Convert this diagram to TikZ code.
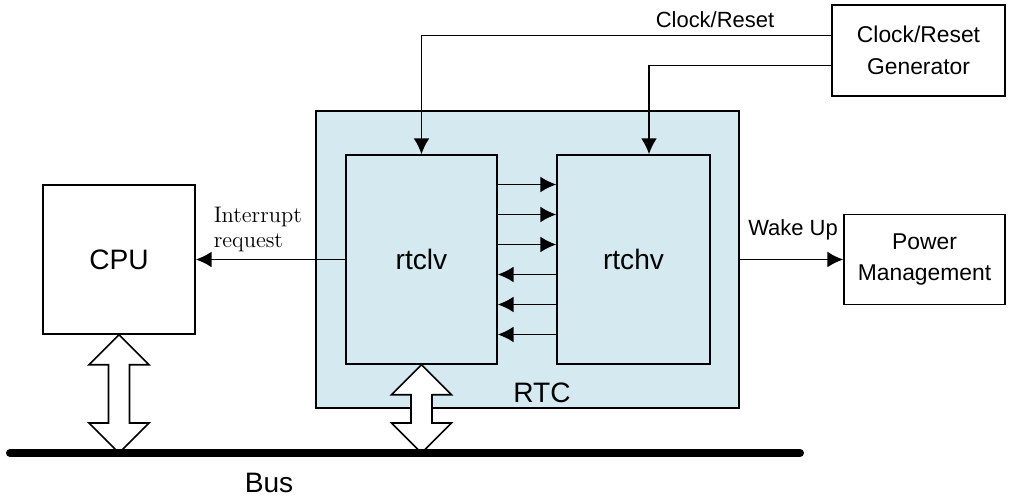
\documentclass[tikz,border=0pt]{standalone}
\usepackage{fontspec}
\newfontfamily\gothic{Liberation Sans}
\usetikzlibrary{arrows.meta,calc}
\definecolor{rtcfundo}{RGB}{212,234,240}
% seta larga de barramento (dupla)
\newcommand{\busarrow}[2]{%
  \draw[fill=white] (#1) -- ($(#1)+(0.6,-0.6)$) -- ($(#1)+(0.21,-0.6)$)
    -- ($(#2)+(0.21,0.6)$) -- ($(#2)+(0.6,0.6)$) -- (#2)
    -- ($(#2)+(-0.6,0.6)$) -- ($(#2)+(-0.21,0.6)$)
    -- ($(#1)+(-0.21,-0.6)$) -- ($(#1)+(-0.6,-0.6)$) -- cycle;}
\begin{document}
\begin{tikzpicture}[>={Latex[length=9pt,width=9pt]}, line width=0.9pt,
  bloco/.style={draw, fill=white, inner sep=0pt, align=center,
    font=\gothic\fontsize{13}{18}\selectfont},
  grande/.style={font=\gothic\fontsize{16}{18}\selectfont},
  rotulo/.style={font=\gothic\fontsize{12.5}{15}\selectfont}]
\useasboundingbox (0,0) rectangle (20.32,10);
% RTC
\node[draw, fill=rtcfundo, minimum width=8.46cm, minimum height=5.94cm] (rtc) at (10.55,4.81) {};
\node[grande] (rtcnome) at (10.84,2.14) {RTC};
\node[bloco, grande, fill=rtcfundo, minimum width=3.02cm, minimum height=4.18cm] (rtclv) at (8.43,4.81) {rtclv};
\node[bloco, grande, fill=rtcfundo, minimum width=3.06cm, minimum height=4.18cm] (rtchv) at (12.67,4.81) {rtchv};
% CPU e blocos externos
\node[bloco, grande, minimum width=3.04cm, minimum height=2.98cm] (cpu) at (2.38,4.81) {CPU};
\node[bloco, minimum width=3.46cm, minimum height=1.82cm] (gen) at (18.37,8.99) {Clock/Reset\\Generator};
\node[bloco, minimum width=3.22cm, minimum height=1.8cm] (pm) at (18.49,4.81) {Power\\Management};
% Clock/Reset
\draw[->] ([yshift=0.3cm]gen.west) -| (rtclv.north);
\draw[->] ([yshift=-0.3cm]gen.west) -| ([xshift=0.31cm]rtchv.north);
\node[rotulo] (clkrot) at (14.3,9.6) {Clock/Reset};
% sinais entre rtclv e rtchv
\foreach \dy in {1.5,0.9,0.3}
  \draw[->] ([yshift=\dy cm]rtclv.east) -- ([yshift=\dy cm]rtchv.west);
\foreach \dy in {-0.3,-0.9,-1.5}
  \draw[->] ([yshift=\dy cm]rtchv.west) -- ([yshift=\dy cm]rtclv.east);
% interrupcao
\draw[->] (rtclv.west) -- (cpu.east);
\node[font=\fontsize{12.8}{14.2}\selectfont, align=left, anchor=west, inner sep=0pt] (irq) at (4.26,5.41) {Interrupt\\request};
% Wake Up
\draw[->] (rtc.east) -- (pm.west);
\node[rotulo] (wakerot) at (15.86,5.4) {Wake Up};
% barramento
\coordinate (busL) at (0.2,0.94);
\coordinate (busR) at (16,0.94);
\coordinate (cpubus) at (cpu.south |- busL);
\coordinate (rtcbus) at (rtclv.south |- busL);
\busarrow{cpu.south}{cpubus}
\busarrow{rtclv.south}{rtcbus}
\draw[line width=0.16cm, line cap=round] (busL) -- (busR);
\node[grande] (busnome) at (5.38,0.34) {Bus};
\end{tikzpicture}
\end{document}
